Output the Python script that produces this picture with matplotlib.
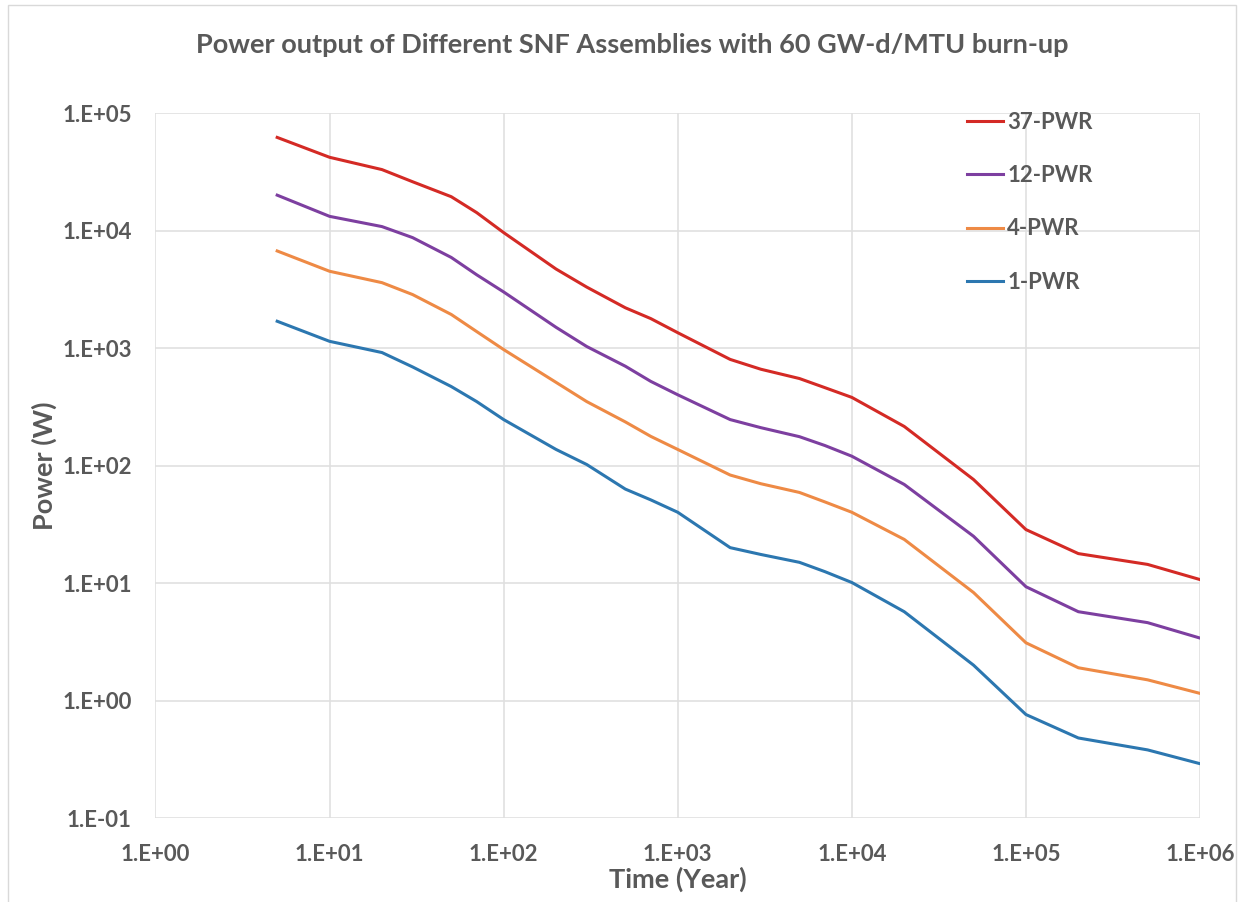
#!/usr/bin/env python3

# Librerias
import numpy as np
import matplotlib
matplotlib.use("Agg")
import matplotlib.pyplot as plt
from matplotlib.ticker import FixedLocator, FuncFormatter
from matplotlib.patches import Rectangle

# Datos (tiempo en años, potencia en W)
tiempo = [5, 10, 20, 30, 50, 70, 100, 200, 300, 500, 700, 1000, 2000, 3000,
          5000, 7000, 10000, 20000, 50000, 100000, 200000, 500000, 1000000]

pwr_37 = [6.2e4, 4.2e4, 3.3e4, 2.6e4, 1.94e4, 1.42e4, 9.6e3, 4.7e3, 3.3e3, 2.2e3,
          1.78e3, 1.35e3, 800, 660, 550, 460, 380, 215, 76, 28.5, 17.8, 14.4, 10.7]
pwr_12 = [2.0e4, 1.32e4, 1.08e4, 8.7e3, 5.9e3, 4.2e3, 3.0e3, 1.5e3, 1.03e3, 700,
          520, 400, 246, 210, 176, 148, 120, 69, 25, 9.3, 5.7, 4.6, 3.4]
pwr_4 = [6.7e3, 4.5e3, 3.6e3, 2.85e3, 1.93e3, 1.38e3, 970, 510, 350, 235,
         177, 137, 83, 70, 59, 49, 40, 23.5, 8.3, 3.1, 1.9, 1.5, 1.15]
pwr_1 = [1.69e3, 1.14e3, 915, 690, 470, 350, 246, 137, 102, 63,
         51, 40, 20, 17.5, 15, 12.5, 10.1, 5.7, 2.0, 0.76, 0.48, 0.38, 0.29]

series = [("37-PWR", pwr_37, "#d42a25"),
          ("12-PWR", pwr_12, "#7d3fa0"),
          ("4-PWR", pwr_4, "#ee8a45"),
          ("1-PWR", pwr_1, "#2c77b0")]

gris = "#595959"
fuente = "Lato"

fig = plt.figure(figsize=(12.42, 9.02), dpi=100)
# Borde del area del grafico (estilo Excel)
fig.patches.append(Rectangle((8 / 1242, -0.01), 1228 / 1242, 1.005, transform=fig.transFigure,
                             fill=False, edgecolor="#d9d9d9", linewidth=1))

ax = fig.add_axes([0.1252, 0.0931, 0.841, 0.7816])

for nombre, valores, color in series:
    ax.plot(tiempo, valores, color=color, linewidth=2.2, label=nombre)

ax.set_xscale("log")
ax.set_yscale("log")
ax.set_xlim(1, 1e6)
ax.set_ylim(1e-1, 1e5)

ax.xaxis.set_major_locator(FixedLocator([10.0 ** k for k in range(0, 7)]))
ax.yaxis.set_major_locator(FixedLocator([10.0 ** k for k in range(-1, 6)]))
ax.xaxis.set_minor_locator(FixedLocator([]))
ax.yaxis.set_minor_locator(FixedLocator([]))
fmt = FuncFormatter(lambda v, p: f"1.E{int(round(np.log10(v))):+03d}")
ax.xaxis.set_major_formatter(fmt)
ax.yaxis.set_major_formatter(fmt)

ax.grid(True, color="#e0e0e0", linewidth=1.2)
ax.set_axisbelow(True)
for s in ax.spines.values():
    s.set_visible(False)
ax.tick_params(length=0, labelsize=16, labelcolor=gris)
ax.tick_params(axis="x", pad=19)
ax.tick_params(axis="y", pad=17)
for lab in ax.get_xticklabels() + ax.get_yticklabels():
    lab.set_fontfamily(fuente)
    lab.set_fontweight("bold")

ax.set_xlabel("Time (Year)", fontsize=19.5, color=gris, fontweight="bold",
              fontfamily=fuente, labelpad=1)
ax.set_ylabel("Power (W)", fontsize=19.5, color=gris, fontweight="bold",
              fontfamily=fuente, labelpad=4)

fig.text(0.509, 0.950, "Power output of Different SNF Assemblies with 60 GW-d/MTU burn-up",
         ha="center", va="center", fontsize=19.5, color=gris, fontweight="bold",
         fontfamily=fuente)

leg = ax.legend(loc="upper left", bbox_to_anchor=(0.758, 1.03), frameon=False,
                handlelength=1.6, handletextpad=0.2, labelspacing=1.45,
                prop={"family": fuente, "weight": "bold", "size": 16})
for t in leg.get_texts():
    t.set_color(gris)

fig.savefig("out.png", dpi=100)
